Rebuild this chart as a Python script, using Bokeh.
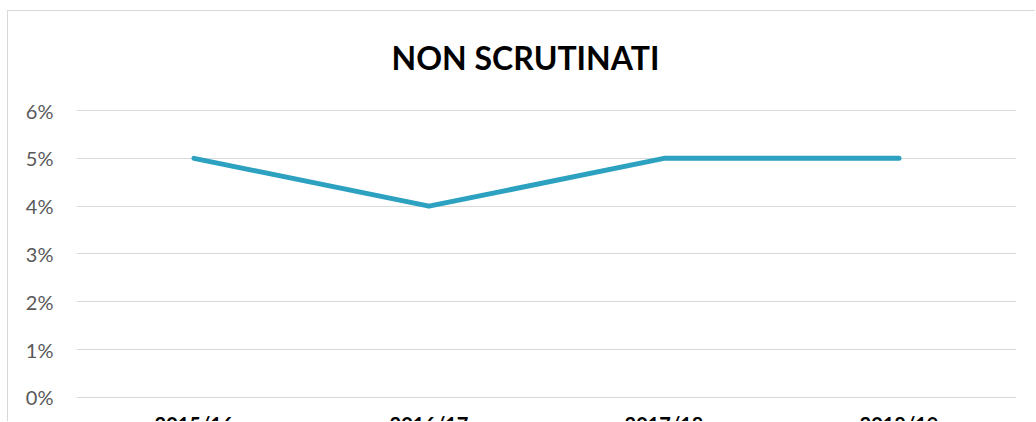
from bokeh.plotting import figure
from bokeh.models import FactorRange, Range1d, NumeralTickFormatter, FixedTicker, ColumnDataSource, Label
from bokeh.embed import file_html
from bokeh.resources import INLINE

title_text = "NON SCRUTINATI"
years = ["2015/16", "2016/17", "2017/18", "2018/19"]
values = [0.05, 0.04, 0.05, 0.05]
y_ticks = [0.0, 0.01, 0.02, 0.03, 0.04, 0.05, 0.06]

p = figure(width=1028, height=411,
           x_range=FactorRange(*years), y_range=Range1d(-0.00523, 0.0807),
           output_backend="svg", toolbar_location=None,
           min_border_left=68, min_border_right=20, min_border_top=0, min_border_bottom=0)
p.margin = (10, 0, 0, 7)
p.styles = {"border-top": "1px solid #d9d9d9", "border-left": "1px solid #d9d9d9"}

p.line(years, values, line_color="#2ca1c0", line_width=5, line_cap="round", line_join="round")

# category labels under the 0% line (cut by the window edge like the reference)
lab = ColumnDataSource(dict(x=years, y=[0.0] * len(years), t=years))
p.text(x="x", y="y", text="t", source=lab, y_offset=15,
       text_align="center", text_baseline="top",
       text_font={"value": "Lato"}, text_font_style="bold",
       text_font_size="20px", text_color="#000000")

title = Label(x=1.9106, y=0.071, text=title_text,
              text_align="center", text_baseline="middle",
              text_font="Lato", text_font_style="bold", text_font_size="32px",
              text_color="#000000")
p.add_layout(title)

p.outline_line_color = None
p.xgrid.grid_line_color = None
p.ygrid.grid_line_color = "#d9d9d9"
p.ygrid.grid_line_width = 1

p.yaxis.ticker = FixedTicker(ticks=y_ticks)
p.yaxis.formatter = NumeralTickFormatter(format="0%")
p.yaxis.axis_line_color = None
p.yaxis.major_tick_line_color = None
p.yaxis.minor_tick_line_color = None
p.yaxis.major_tick_out = 0
p.yaxis.major_tick_in = 0
p.yaxis.major_label_text_font = "Lato"
p.yaxis.major_label_text_font_size = "20px"
p.yaxis.major_label_text_color = "#595959"
p.yaxis.major_label_standoff = 23

p.xaxis.visible = False

open("out.html", "w").write(file_html(p, INLINE))
